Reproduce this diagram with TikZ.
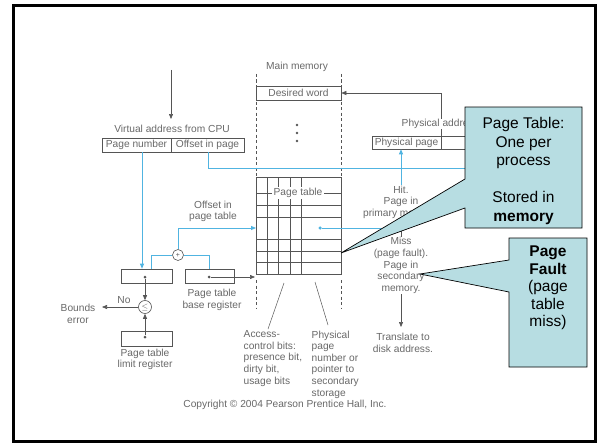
\documentclass[tikz,border=0pt]{standalone}
\usepackage{fontspec}
\setmainfont{Liberation Sans}
\usetikzlibrary{arrows.meta}
\definecolor{ink}{RGB}{85,85,85}
\definecolor{txt}{RGB}{105,105,105}
\definecolor{link}{RGB}{80,180,225}
\definecolor{notefill}{RGB}{183,221,226}

\begin{document}
\begin{tikzpicture}[x=1pt,y=-1pt,
  lbl/.style={font=\fontsize{10.2}{11.6}\selectfont, text=txt, inner sep=0.5pt, align=center},
  cell/.style={draw=ink, line width=0.6pt, inner sep=0pt, font=\fontsize{10.2}{11.6}\selectfont, text=txt, minimum height=14pt},
  wire/.style={draw=ink, line width=0.6pt},
  bwire/.style={draw=link, line width=0.8pt},
  tip/.style={-{Triangle[length=5pt,width=4pt]}},
  dotm/.style={circle, fill=ink, inner sep=0pt, minimum size=3pt},
  bdot/.style={circle, fill=link, inner sep=0pt, minimum size=3.5pt},
  mem/.style={draw=ink, line width=0.6pt, dash pattern=on 3pt off 2.5pt},
  gridline/.style={draw=ink, line width=0.5pt},
  op/.style={circle, draw=ink, fill=white, line width=0.6pt, inner sep=0pt, text=ink},
  callout/.style={fill=notefill, draw=black, line width=0.7pt, line join=miter},
  notetext/.style={font=\fontsize{15.5}{18.5}\selectfont, align=center, inner sep=0pt}
]
\fill[white] (0,0) rectangle (605,444);
\useasboundingbox (0,0) rectangle (605,444);

% ---- virtual address ----
\coordinate (cpu) at (171,70);
\node[lbl] (vlabel) at (172,129) {Virtual address from CPU};
\draw[wire,tip] (cpu) -- (171,119);
\node[cell, minimum width=69pt] (pn) at (136.5,145) {Page number};
\node[cell, minimum width=73pt] (off) at (207.5,145) {Offset in page};

% ---- main memory ----
\node[lbl] (mmlabel) at (297,67) {Main memory};
\draw[mem] (256,74) -- (256,177);
\draw[mem] (341,74) -- (341,177);
\draw[mem] (256,280) -- (256,308);
\draw[mem] (341,280) -- (341,308);
\node[cell, fill=white, minimum width=85pt, minimum height=14pt] (word) at (298.5,93) {Desired word};
\node[dotm, minimum size=2.6pt] (d1) at (297,125) {};
\node[dotm, minimum size=2.6pt] (d2) at (297,133) {};
\node[dotm, minimum size=2.6pt] (d3) at (297,141) {};

% ---- page table grid ----
\node[draw=ink, line width=0.6pt, minimum width=85pt, minimum height=97pt, inner sep=0pt] (ptab) at (298.5,225.5) {};
\foreach \x in {267,278.5,290,301.5} \draw[gridline] (\x,177) -- (\x,274);
\foreach \y in {193,205,217,239,251,262.5} \draw[gridline] (256,\y) -- (341,\y);
\node[lbl, fill=white, inner xsep=1.5pt, inner ysep=1.2pt] (ptlabel) at (298,193) {Page table};
\coordinate (entry) at (256,228);
\coordinate (entryR) at (401,228);
\node[bdot] (pte) at (320,228) {};

% ---- registers ----
\node[cell, minimum width=51pt] (lreg) at (146.5,276) {};
\node[cell, minimum width=49pt] (breg) at (209.5,276) {};
\node[cell, minimum width=51pt, minimum height=15pt] (limreg) at (146.5,338.5) {};
\node[dotm] (ldot) at (145,277) {};
\node[dotm] (bdotr) at (209,277) {};
\node[dotm] (mdot) at (145,337) {};
\node[op, minimum size=11pt, font=\fontsize{7}{7}\selectfont] (add) at (178,255) {+};
\node[op, minimum size=13pt, font=\fontsize{8}{8}\selectfont] (cmp) at (145,307) {$\le$};

\node[lbl] (offlbl) at (213,211.5) {Offset in\\page table};
\node[lbl] (blbl) at (212,300) {Page table\\base register};
\node[lbl] (llbl) at (145,359.5) {Page table\\limit register};
\node[lbl] (bounds) at (78,314) {Bounds\\error};
\node[lbl] (nolbl) at (124,300.5) {No};
\coordinate (bend) at (102,307);

% blue connectors
\draw[bwire,tip] (pn.south -| 142,0) -- (lreg.north -| 142,0);
\draw[bwire] (lreg.north -| 151,0) |- (add.west);
\draw[bwire] (add.east) -| (breg.north -| 209,0);
\draw[bwire,tip] (add.north) |- (entry);
\draw[bwire,tip] (off.south -| 208,0) |- (480,168) -- (480,150);

% black connectors
\draw[wire,tip] (ldot) -- (cmp.north);
\draw[wire,tip] (mdot) -- (cmp.south);
\draw[wire,tip] (cmp.west) -- (bend);
\draw[wire,tip] (bdotr) -- (255,277);

% ---- physical address ----
\node[cell, minimum width=69pt, minimum height=13pt] (ppage) at (406.5,142.5) {Physical page};
\node[cell, minimum width=69pt, minimum height=13pt] (poff) at (475.5,142.5) {};
\draw[wire,tip] (ppage.north east) |- (word.east);
\node[lbl, fill=white, anchor=west] (palbl) at (401,124) {Physical address};

% hit / miss
\draw[bwire] (pte) -- (entryR);
\draw[bwire,tip] (entryR) -- (ppage.south -| entryR);
\node[lbl, fill=white] (hit) at (401,202) {Hit.\\Page in\\primary memory.};
\coordinate (missend) at (401,327);
\draw[wire,tip] (entryR) -- (missend);
\node[lbl, fill=white] (miss) at (401,265.5) {Miss\\(page fault).\\Page in\\secondary\\memory.};
\node[lbl] (disk) at (403,343) {Translate to\\disk address.};

% pointers below the table
\draw[wire, line width=0.5pt] (284,283) -- (268,329);
\draw[wire, line width=0.5pt] (315,282) -- (328,325);
\node[lbl, align=left, anchor=west] (acc) at (243,358.5) {Access-\\control bits:\\presence bit,\\dirty bit,\\usage bits};
\node[lbl, align=left, anchor=west] (phys) at (311,364.5) {Physical\\page\\number or\\pointer to\\secondary\\storage};

\node[lbl] (copy) at (285,405) {Copyright © 2004 Pearson Prentice Hall, Inc.};

% ---- callouts ----
\draw[callout] (465,107) -- (582,107) -- (582,228) -- (465,228) -- (465,208) -- (341,253) -- (465,179) -- cycle;
\node[notetext] (note1) at (523.5,171) {Page Table:\\One per\\process\\[18.5pt]Stored in\\\textbf{memory}};
\draw[callout] (509,238) -- (587,238) -- (587,367) -- (509,367) -- (509,292) -- (420,274) -- (509,260) -- cycle;
\node[notetext, font=\fontsize{15.5}{17.5}\selectfont] (note2) at (548,288) {\textbf{Page}\\\textbf{Fault}\\(page\\table\\miss)};

% ---- slide frame ----
\draw[line width=3pt] (13.5,5.5) rectangle (595,441.5);
\end{tikzpicture}
\end{document}
